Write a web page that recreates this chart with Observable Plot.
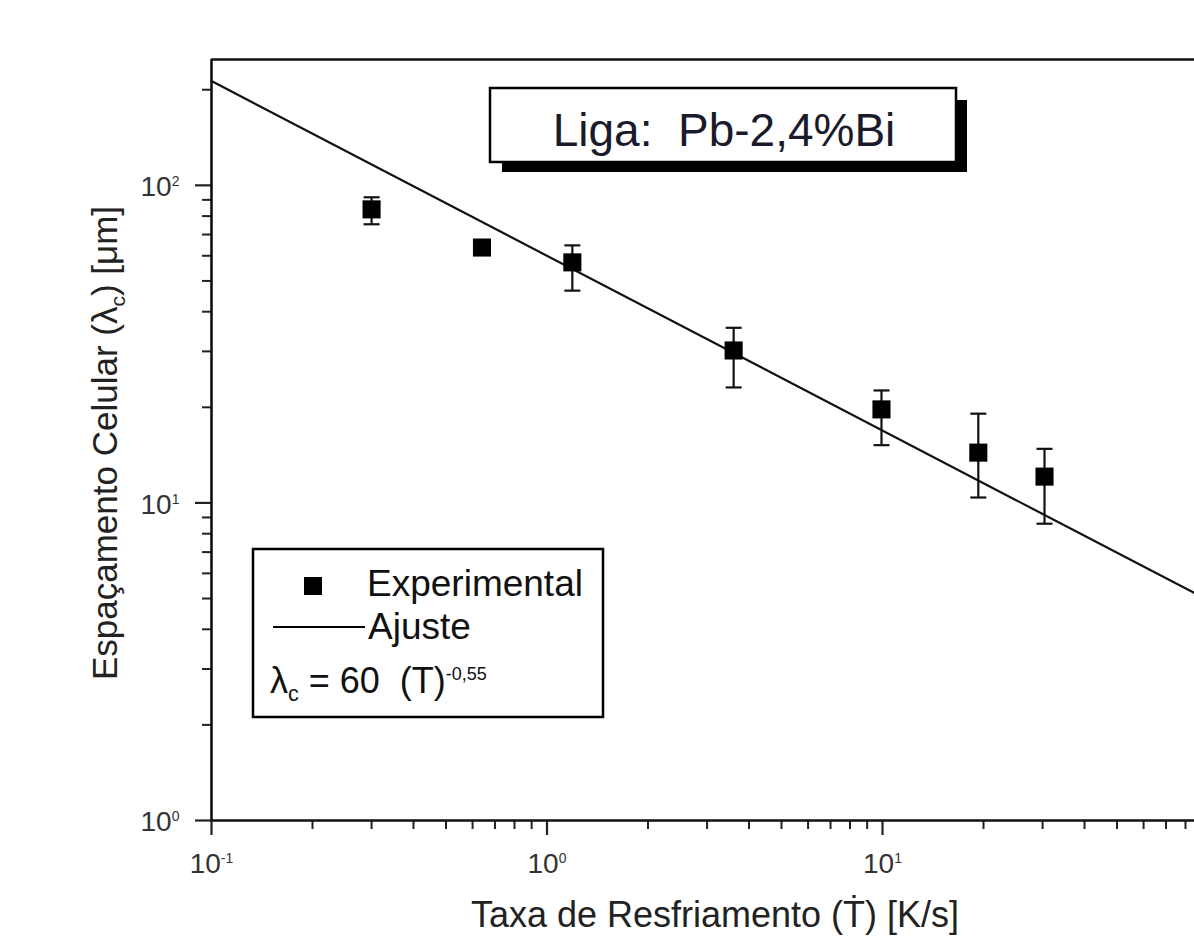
<!DOCTYPE html>
<html>
<head>
<meta charset="utf-8">
<script src="https://cdn.jsdelivr.net/npm/d3@7"></script>
<script src="https://cdn.jsdelivr.net/npm/@observablehq/plot@0.6"></script>
<style>
  html, body { margin: 0; padding: 0; background: #fff; }
  #chart svg { display: block; }
</style>
</head>
<body>
<div id="chart"></div>
<script>
// ---- data ----
const rate        = [0.30, 0.64, 1.19, 3.60, 9.93, 19.3, 30.4];   // cooling rate [K/s]
const spacing     = [84.0, 63.7, 57.2, 30.2, 19.7, 14.4, 12.1];   // cellular spacing [µm]
const spacingLow  = [75.4, 60.5, 46.6, 23.1, 15.2, 10.4, 8.6];
const spacingHigh = [91.7, 67.0, 64.7, 35.6, 22.6, 19.1, 14.8];
const fitRate     = [0.1, 85.1];
const fitSpacing  = [213, 5.2];

const xMajor = [0.1, 1, 10];
const xMajorLabels = ["10^{-1}", "10^{0}", "10^{1}"];
const xMinor = [0.2, 0.3, 0.4, 0.5, 0.6, 0.7, 0.8, 0.9, 2, 3, 4, 5, 6, 7, 8, 9, 20, 30, 40, 50, 60, 70, 80];
const yMajor = [1, 10, 100];
const yMajorLabels = ["10^{0}", "10^{1}", "10^{2}"];
const yMinor = [2, 3, 4, 5, 6, 7, 8, 9, 20, 30, 40, 50, 60, 70, 80, 90, 200];
const xDomain = [0.1, 85.1];
const yDomain = [1, 249];

const xLabel = "Taxa de Resfriamento (Ṫ) [K/s]";
const yLabel = "Espaçamento Celular (λ_{c}) [μm]";
const titleText = "Liga:\u00a0\u00a0Pb-2,4%Bi";
const legendItems = ["Experimental", "Ajuste"];
const legendFormula = "λ_{c} = 60\u00a0\u00a0(T)^{-0,55}";

const points = rate.map((r, i) => ({rate: r, spacing: spacing[i], low: spacingLow[i], high: spacingHigh[i]}));
const fit = fitRate.map((r, i) => ({rate: r, spacing: fitSpacing[i]}));

const FONT = '"Liberation Sans", Arial, Helvetica, sans-serif';
const INK = "#111";
const svgNS = "http://www.w3.org/2000/svg";

// append text with _{sub} / ^{sup} parts as tspans
function fillRich(textEl, str, fs, subScale = 0.6, supScale = 0.5) {
  while (textEl.firstChild) textEl.removeChild(textEl.firstChild);
  const re = /([_^])\{([^}]*)\}/g;
  let last = 0, m;
  while ((m = re.exec(str))) {
    if (m.index > last) {
      const t = document.createElementNS(svgNS, "tspan");
      t.textContent = str.slice(last, m.index);
      textEl.appendChild(t);
    }
    const t = document.createElementNS(svgNS, "tspan");
    t.textContent = m[2];
    if (m[1] === "_") {
      t.setAttribute("font-size", fs * subScale);
      t.setAttribute("baseline-shift", -fs * 0.22);
    } else {
      t.setAttribute("font-size", fs * supScale);
      t.setAttribute("baseline-shift", fs * 0.36);
    }
    textEl.appendChild(t);
    last = re.lastIndex;
  }
  if (last < str.length) {
    const t = document.createElementNS(svgNS, "tspan");
    t.textContent = str.slice(last);
    textEl.appendChild(t);
  }
}

function svgEl(name, attrs) {
  const e = document.createElementNS(svgNS, name);
  for (const k in attrs) e.setAttribute(k, attrs[k]);
  return e;
}

// annotation boxes (title box with shadow, legend)
function annotations() {
  const g = svgEl("g", {"font-family": FONT, fill: INK, "text-anchor": "start"});
  // title box
  g.appendChild(svgEl("rect", {x: 502, y: 100, width: 465, height: 72, fill: "#000"}));
  g.appendChild(svgEl("rect", {x: 490, y: 88, width: 466, height: 74, fill: "#fff", stroke: "#000", "stroke-width": 2.5}));
  const tt = svgEl("text", {x: 724, y: 146, "text-anchor": "middle", "font-size": 46, fill: "#1a1a2a"});
  tt.textContent = titleText;
  g.appendChild(tt);
  // legend box
  g.appendChild(svgEl("rect", {x: 253, y: 549, width: 350, height: 168, fill: "#fff", stroke: "#000", "stroke-width": 2.5}));
  g.appendChild(svgEl("rect", {x: 304, y: 577, width: 18, height: 18, fill: "#000"}));
  const t1 = svgEl("text", {x: 367, y: 596, "font-size": 37});
  t1.textContent = legendItems[0];
  g.appendChild(t1);
  g.appendChild(svgEl("line", {x1: 273, x2: 365, y1: 627, y2: 627, stroke: "#000", "stroke-width": 2}));
  const t2 = svgEl("text", {x: 368, y: 639, "font-size": 37});
  t2.textContent = legendItems[1];
  g.appendChild(t2);
  const t3 = svgEl("text", {x: 270, y: 693, "font-size": 36});
  fillRich(t3, legendFormula, 36, 0.6, 0.5);
  g.appendChild(t3);
  return g;
}

const capSymbol = {
  draw(ctx, size) {
    const w = Math.sqrt(size / Math.PI);
    ctx.moveTo(-w, 0);
    ctx.lineTo(w, 0);
  }
};

const plot = Plot.plot({
  width: 1194,
  height: 940,
  marginLeft: 211,
  marginRight: 0,
  marginTop: 59,
  marginBottom: 120,
  style: {fontFamily: FONT, background: "#fff", color: INK, overflow: "visible"},
  x: {type: "log", domain: xDomain},
  y: {type: "log", domain: yDomain},
  marks: [
    // axes ticks
    Plot.axisX(xMinor, {anchor: "bottom", tickSize: 9, tickFormat: () => "", label: null, strokeWidth: 2, stroke: "#222"}),
    Plot.axisX(xMajor, {anchor: "bottom", tickSize: 15, tickFormat: () => "", label: null, strokeWidth: 2.2, stroke: "#222"}),
    Plot.axisY(yMinor, {anchor: "left", tickSize: 9, tickFormat: () => "", label: null, strokeWidth: 2, stroke: "#222"}),
    Plot.axisY(yMajor, {anchor: "left", tickSize: 16, tickFormat: () => "", label: null, strokeWidth: 2.2, stroke: "#222"}),
    // tick labels
    Plot.text(xMajor, {x: d => d, y: yDomain[0], text: (d, i) => xMajorLabels[i], dy: 44, fontSize: 28, fill: "#333", textAnchor: "middle"}),
    Plot.text(yMajor, {x: xDomain[0], y: d => d, text: (d, i) => yMajorLabels[i], dx: -32, dy: 2, fontSize: 28, fill: "#333", textAnchor: "end"}),
    // frame lines
    Plot.ruleX([xDomain[0]], {stroke: "#111", strokeWidth: 2.6}),
    Plot.ruleY([yDomain[0]], {stroke: "#111", strokeWidth: 2.6}),
    Plot.ruleY([yDomain[1]], {stroke: "#111", strokeWidth: 2.6}),
    // fit
    Plot.line(fit, {x: "rate", y: "spacing", stroke: "#111", strokeWidth: 2.2}),
    // error bars
    Plot.ruleX(points, {x: "rate", y1: "low", y2: "high", stroke: "#111", strokeWidth: 2.2}),
    Plot.dot(points, {x: "rate", y: "low", symbol: capSymbol, r: 8, stroke: "#111", strokeWidth: 2.2, fill: "none"}),
    Plot.dot(points, {x: "rate", y: "high", symbol: capSymbol, r: 8, stroke: "#111", strokeWidth: 2.2, fill: "none"}),
    // markers
    Plot.dot(points, {x: "rate", y: "spacing", symbol: "square", r: 10.2, fill: "#000", stroke: "none"}),
    // axis titles
    Plot.text([xLabel], {frameAnchor: "bottom", dx: 12, dy: 106, lineAnchor: "bottom", textAnchor: "middle", fontSize: 36, fill: "#222"}),
    Plot.text([yLabel], {frameAnchor: "left", rotate: -90, dx: -106, dy: 3, textAnchor: "middle", fontSize: 35, fill: "#222"}),
    annotations
  ]
});

document.getElementById("chart").appendChild(plot);

// render _{ } / ^{ } as sub/superscripts in Plot text
plot.querySelectorAll("text").forEach(t => {
  const s = t.textContent;
  if (/[_^]\{/.test(s)) {
    const fs = parseFloat(getComputedStyle(t).fontSize);
    fillRich(t, s, fs, 0.6, 0.5);
  }
});
</script>
</body>
</html>
